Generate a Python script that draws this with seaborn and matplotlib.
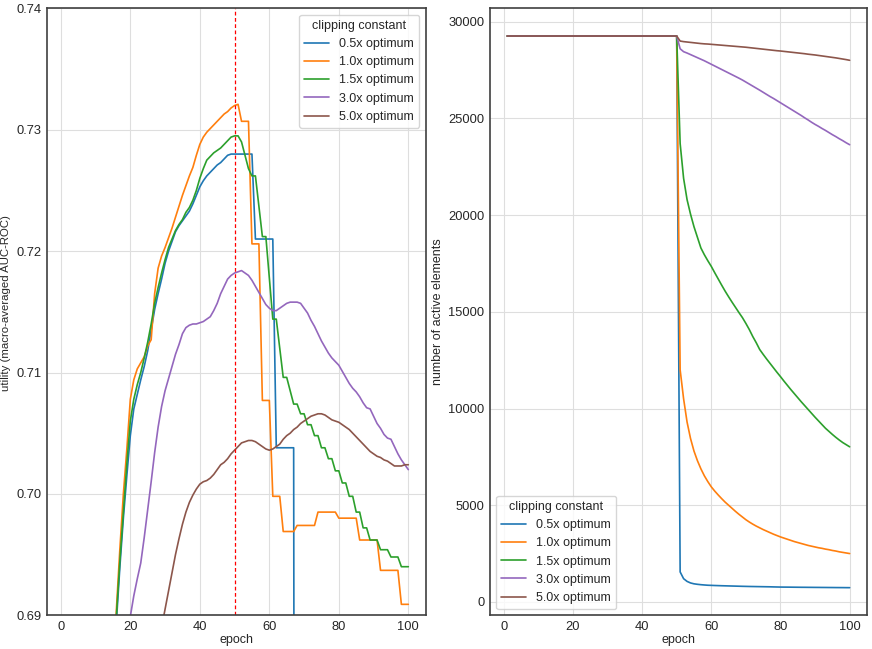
import numpy as np
import pandas as pd
import matplotlib
matplotlib.use("Agg")
import matplotlib.pyplot as plt
import seaborn as sns

# epochs and series labels
epochs = list(range(1, 101))
labels = ["0.5x optimum", "1.0x optimum", "1.5x optimum", "3.0x optimum", "5.0x optimum"]
colors = ["#1f77b4", "#ff7f0e", "#2ca02c", "#9467bd", "#8c564b"]

# utility (macro-averaged AUC-ROC) per epoch
util_05 = [0.512, 0.518, 0.526, 0.535, 0.546, 0.558, 0.572, 0.587, 0.603, 0.619,
           0.635, 0.650, 0.664, 0.676, 0.684, 0.6895, 0.6940, 0.6980, 0.7015, 0.7048,
           0.7070, 0.7082, 0.7094, 0.7105, 0.7118, 0.7135, 0.7152, 0.7165, 0.7177, 0.7190,
           0.7200, 0.7208, 0.7216, 0.7221, 0.7225, 0.7229, 0.7233, 0.7239, 0.7246, 0.7253,
           0.7258, 0.7262, 0.7265, 0.7268, 0.7271, 0.7273, 0.7276, 0.7279, 0.7280, 0.7280,
           0.7280, 0.7280, 0.7280, 0.7280, 0.7280, 0.7210, 0.7210, 0.7210, 0.7210, 0.7210,
           0.7210, 0.7038, 0.7038, 0.7038, 0.7038, 0.7038, 0.7038, 0.500, 0.500, 0.500,
           0.500, 0.500, 0.500, 0.500, 0.500, 0.500, 0.500, 0.500, 0.500, 0.500,
           0.500, 0.500, 0.500, 0.500, 0.500, 0.500, 0.500, 0.500, 0.500, 0.500,
           0.500, 0.500, 0.500, 0.500, 0.500, 0.500, 0.500, 0.500, 0.500, 0.500]
util_10 = [0.515, 0.522, 0.530, 0.540, 0.551, 0.563, 0.577, 0.592, 0.608, 0.624,
           0.640, 0.655, 0.668, 0.678, 0.685, 0.6905, 0.6955, 0.7000, 0.7037, 0.7078,
           0.7094, 0.7103, 0.7108, 0.7113, 0.7122, 0.7127, 0.7165, 0.7186, 0.7196, 0.7203,
           0.7211, 0.7219, 0.7228, 0.7237, 0.7246, 0.7254, 0.7262, 0.7269, 0.7279, 0.7288,
           0.7294, 0.7298, 0.7301, 0.7304, 0.7307, 0.7310, 0.7313, 0.7315, 0.7318, 0.7320,
           0.7321, 0.7307, 0.7307, 0.7307, 0.7206, 0.7206, 0.7206, 0.7077, 0.7077, 0.7077,
           0.6998, 0.6998, 0.6998, 0.6969, 0.6969, 0.6969, 0.6969, 0.6974, 0.6974, 0.6974,
           0.6974, 0.6974, 0.6974, 0.6985, 0.6985, 0.6985, 0.6985, 0.6985, 0.6985, 0.6980,
           0.6980, 0.6980, 0.6980, 0.6980, 0.6980, 0.6962, 0.6962, 0.6962, 0.6962, 0.6962,
           0.6962, 0.6937, 0.6937, 0.6937, 0.6937, 0.6937, 0.6937, 0.6909, 0.6909, 0.6909]
util_15 = [0.510, 0.516, 0.524, 0.533, 0.544, 0.556, 0.570, 0.585, 0.601, 0.617,
           0.633, 0.648, 0.662, 0.674, 0.683, 0.6900, 0.6945, 0.6985, 0.7025, 0.7060,
           0.7078, 0.7090, 0.7100, 0.7112, 0.7125, 0.7140, 0.7157, 0.7170, 0.7182, 0.7193,
           0.7203, 0.7210, 0.7217, 0.7222, 0.7226, 0.7232, 0.7236, 0.7242, 0.7250, 0.7260,
           0.7268, 0.7275, 0.7278, 0.7281, 0.7283, 0.7285, 0.7288, 0.7291, 0.7294, 0.7295,
           0.7295, 0.7290, 0.7279, 0.7268, 0.7262, 0.7262, 0.7237, 0.7212, 0.7212, 0.7178,
           0.7144, 0.7144, 0.7120, 0.7096, 0.7096, 0.7085, 0.7074, 0.7074, 0.7066, 0.7066,
           0.7057, 0.7057, 0.7048, 0.7048, 0.7038, 0.7038, 0.7029, 0.7029, 0.7019, 0.7019,
           0.7009, 0.7009, 0.6998, 0.6998, 0.6985, 0.6985, 0.6972, 0.6972, 0.6962, 0.6962,
           0.6962, 0.6954, 0.6954, 0.6954, 0.6948, 0.6948, 0.6948, 0.6940, 0.6940, 0.6940]
util_30 = [0.505, 0.509, 0.514, 0.520, 0.527, 0.535, 0.544, 0.554, 0.565, 0.577,
           0.590, 0.604, 0.618, 0.632, 0.646, 0.659, 0.670, 0.680, 0.6883, 0.6899,
           0.6916, 0.6930, 0.6943, 0.6964, 0.6987, 0.7010, 0.7034, 0.7055, 0.7072, 0.7085,
           0.7095, 0.7105, 0.7115, 0.7123, 0.7132, 0.7137, 0.7139, 0.7140, 0.7140, 0.7141,
           0.7142, 0.7144, 0.7146, 0.7151, 0.7157, 0.7165, 0.7171, 0.7177, 0.7180, 0.7182,
           0.7183, 0.7184, 0.7182, 0.7180, 0.7176, 0.7171, 0.7166, 0.7161, 0.7156, 0.7153,
           0.7151, 0.7151, 0.7153, 0.7155, 0.7157, 0.7158, 0.7158, 0.7158, 0.7157, 0.7153,
           0.7149, 0.7143, 0.7138, 0.7132, 0.7126, 0.7121, 0.7116, 0.7112, 0.7109, 0.7106,
           0.7101, 0.7096, 0.7091, 0.7087, 0.7084, 0.7080, 0.7075, 0.7071, 0.7070, 0.7064,
           0.7058, 0.7054, 0.7049, 0.7046, 0.7045, 0.7039, 0.7033, 0.7028, 0.7024, 0.7020]
util_50 = [0.500, 0.503, 0.507, 0.512, 0.518, 0.525, 0.533, 0.542, 0.552, 0.563,
           0.575, 0.587, 0.599, 0.611, 0.623, 0.634, 0.645, 0.655, 0.664, 0.669,
           0.673, 0.677, 0.680, 0.683, 0.685, 0.6855, 0.6862, 0.6876, 0.6890, 0.6905,
           0.6920, 0.6935, 0.6950, 0.6963, 0.6975, 0.6985, 0.6993, 0.6999, 0.7004, 0.7008,
           0.7010, 0.7011, 0.7013, 0.7016, 0.7020, 0.7024, 0.7026, 0.7029, 0.7033, 0.7036,
           0.7039, 0.7042, 0.7043, 0.7044, 0.7044, 0.7043, 0.7041, 0.7039, 0.7037, 0.7036,
           0.7037, 0.7039, 0.7041, 0.7045, 0.7048, 0.7050, 0.7053, 0.7055, 0.7058, 0.7060,
           0.7062, 0.7064, 0.7065, 0.7066, 0.7066, 0.7065, 0.7063, 0.7061, 0.7060, 0.7059,
           0.7057, 0.7055, 0.7053, 0.7050, 0.7047, 0.7044, 0.7041, 0.7038, 0.7035, 0.7033,
           0.7031, 0.7030, 0.7028, 0.7027, 0.7025, 0.7023, 0.7023, 0.7023, 0.7024, 0.7024]

# number of active elements; all runs share the same count before clipping starts
before_clip = [29260] * 50
active_05 = before_clip + [
    1550, 1200, 1060, 980, 935, 910, 890, 875, 862, 855,
    848, 842, 836, 831, 826, 821, 816, 811, 806, 802,
    798, 795, 792, 789, 786, 783, 780, 775, 771, 767,
    765, 764, 762, 760, 758, 756, 755, 753, 752, 750,
    749, 747, 746, 744, 743, 741, 740, 739, 737, 736]
active_10 = before_clip + [
    12000, 10500, 9300, 8450, 7800, 7300, 6880, 6520, 6220, 5950,
    5730, 5530, 5340, 5160, 5000, 4840, 4680, 4530, 4390, 4250,
    4130, 4020, 3920, 3830, 3740, 3660, 3580, 3500, 3430, 3360,
    3300, 3240, 3180, 3120, 3070, 3020, 2970, 2920, 2880, 2840,
    2800, 2770, 2730, 2700, 2660, 2630, 2590, 2560, 2530, 2500]
active_15 = before_clip + [
    23700, 21900, 20800, 20050, 19400, 18850, 18300, 17950, 17640, 17350,
    17020, 16700, 16380, 16070, 15780, 15500, 15230, 14960, 14700, 14400,
    14080, 13720, 13400, 13050, 12800, 12560, 12330, 12100, 11870, 11650,
    11420, 11200, 10980, 10770, 10560, 10350, 10150, 9950, 9750, 9550,
    9360, 9170, 8980, 8820, 8660, 8510, 8370, 8240, 8130, 8020]
active_30 = before_clip + [
    28600, 28450, 28380, 28300, 28220, 28140, 28060, 27980, 27890, 27800,
    27710, 27620, 27530, 27440, 27350, 27260, 27170, 27080, 26985, 26880,
    26775, 26670, 26565, 26460, 26350, 26240, 26130, 26030, 25920, 25810,
    25700, 25590, 25480, 25370, 25260, 25150, 25030, 24920, 24800, 24690,
    24590, 24480, 24380, 24270, 24160, 24060, 23950, 23850, 23740, 23640]
active_50 = before_clip + [
    29000, 28970, 28950, 28930, 28910, 28890, 28870, 28855, 28845, 28830,
    28815, 28800, 28785, 28770, 28755, 28740, 28725, 28710, 28695, 28680,
    28660, 28640, 28620, 28600, 28580, 28560, 28540, 28520, 28500, 28485,
    28465, 28445, 28425, 28405, 28385, 28365, 28345, 28320, 28300, 28280,
    28255, 28230, 28205, 28180, 28155, 28130, 28100, 28070, 28040, 28005]

clip_start = 50

sns.set_style("whitegrid", {"axes.edgecolor": "0.25", "grid.color": "0.87"})
plt.rcParams["font.family"] = ["Liberation Sans", "DejaVu Sans"]
plt.rcParams["axes.linewidth"] = 1.2

util = pd.DataFrame({"epoch": epochs * 5,
                     "utility": util_05 + util_10 + util_15 + util_30 + util_50,
                     "clipping constant": np.repeat(labels, 100)})
active = pd.DataFrame({"epoch": epochs * 5,
                       "active": active_05 + active_10 + active_15 + active_30 + active_50,
                       "clipping constant": np.repeat(labels, 100)})

fig = plt.figure(figsize=(8.72, 6.49), dpi=100)
ax1 = fig.add_axes([0.054, 0.052, 0.434, 0.935])
ax2 = fig.add_axes([0.562, 0.052, 0.432, 0.935])

sns.lineplot(data=util, x="epoch", y="utility", hue="clipping constant",
             palette=colors, linewidth=1.2, ax=ax1)
ax1.axvline(clip_start, color="red", linestyle="--", linewidth=0.9, dashes=(3, 2))
ax1.set_ylim(0.69, 0.74)
ax1.set_yticks([0.69, 0.70, 0.71, 0.72, 0.73, 0.74])
ax1.set_yticklabels(["0.69", "0.70", "0.71", "0.72", "0.73", "0.74"])
ax1.set_xticks([0, 20, 40, 60, 80, 100])
ax1.set_ylabel("utility (macro-averaged AUC-ROC)", fontsize=8.2)
ax1.yaxis.set_label_coords(-0.095, 0.515)
ax1.set_xlabel("epoch", fontsize=9, labelpad=1)
ax1.tick_params(labelsize=9.3, length=0, pad=4)
ax1.legend(title="clipping constant", loc="upper right", fontsize=9,
           title_fontsize=9, frameon=True)

sns.lineplot(data=active, x="epoch", y="active", hue="clipping constant",
             palette=colors, linewidth=1.2, ax=ax2)
ax2.set_xticks([0, 20, 40, 60, 80, 100])
ax2.set_ylabel("number of active elements", fontsize=9, labelpad=3)
ax2.set_xlabel("epoch", fontsize=9, labelpad=1)
ax2.tick_params(labelsize=9.3, length=0, pad=4)
ax2.legend(title="clipping constant", loc="lower left", fontsize=9,
           title_fontsize=9, frameon=True)

fig.savefig("out.png", dpi=100)
